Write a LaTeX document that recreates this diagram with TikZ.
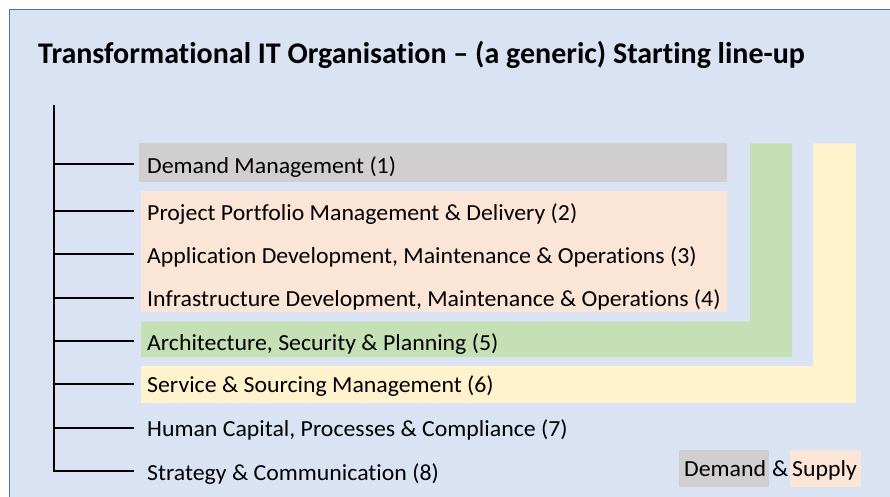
\documentclass[tikz,border=0pt]{standalone}
\usepackage{fontspec}
\setmainfont{Carlito}[Ligatures=NoCommon]
\newfontfamily\bodyfont{Carlito}[Ligatures=NoCommon,FakeStretch=1.035]
\definecolor{panel}{HTML}{DAE3F3}
\definecolor{panelrule}{HTML}{4472C4}
\definecolor{demandgray}{HTML}{D0CECE}
\definecolor{supplypeach}{HTML}{FBE5D6}
\definecolor{archgreen}{HTML}{C5E0B4}
\definecolor{srcyellow}{HTML}{FFF2CC}
\begin{document}
\begin{tikzpicture}[x=1pt,y=-1pt,
  branch/.style={line width=2pt,black},
  item/.style={anchor=base west,inner sep=0pt,font=\bodyfont\fontsize{23}{27}\selectfont},
  legend/.style={anchor=base west,inner sep=0pt,font=\bodyfont\fontsize{23}{27}\selectfont}]
\useasboundingbox (0,0) rectangle (890,497);
\fill[white] (0,0) rectangle (890,497);
% panel
\filldraw[fill=panel,draw=panelrule,line width=1.2pt] (9.5,9.5) rectangle (905,515);
% title
\node[anchor=base west,inner sep=0pt,font=\fontsize{30}{34}\bfseries\selectfont] (title) at (38,63.5)
  {Transformational IT Organisation -- (a generic) Starting line-up};
% coloured bands
\fill[srcyellow] (813,143.5) -- (856,143.5) -- (856,403) -- (141,403) -- (141,366) -- (813,366) -- cycle;
\fill[archgreen] (750,143.5) -- (792,143.5) -- (792,357) -- (141,357) -- (141,321.5) -- (750,321.5) -- cycle;
\fill[demandgray] (139,143.5) rectangle (727,182);
\fill[supplypeach] (141,191) rectangle (727,312);
% tree
\coordinate (top) at (53.5,106);
\coordinate (corner) at (53.5,471);
\foreach \i/\y/\t in {1/164/{Demand Management (1)},
                      2/211/{Project Portfolio Management \& Delivery (2)},
                      3/254/{Application Development, Maintenance \& Operations (3)},
                      4/297.5/{Infrastructure Development, Maintenance \& Operations (4)},
                      5/341/{Architecture, Security \& Planning (5)},
                      6/383.5/{Service \& Sourcing Management (6)},
                      7/427.5/{Human Capital, Processes \& Compliance (7)},
                      8/471/{Strategy \& Communication (8)}}{
  \coordinate (b\i) at (53.5,\y);
  \node[item] (n\i) at (147,\y+9) {\t};
  \coordinate (e\i) at (134,\y);
  \draw[branch] (b\i) -- (e\i);
}
\draw[branch,line cap=rect] (top) -- (corner);
% legend
\fill[demandgray] (679,450) rectangle (769,487);
\fill[supplypeach] (790,450) rectangle (861,487);
\node[legend] (ldemand) at (684,476) {Demand};
\node[legend] (lamp) at (772,476) {\&};
\node[legend] (lsupply) at (792,476) {Supply};
\end{tikzpicture}
\end{document}
